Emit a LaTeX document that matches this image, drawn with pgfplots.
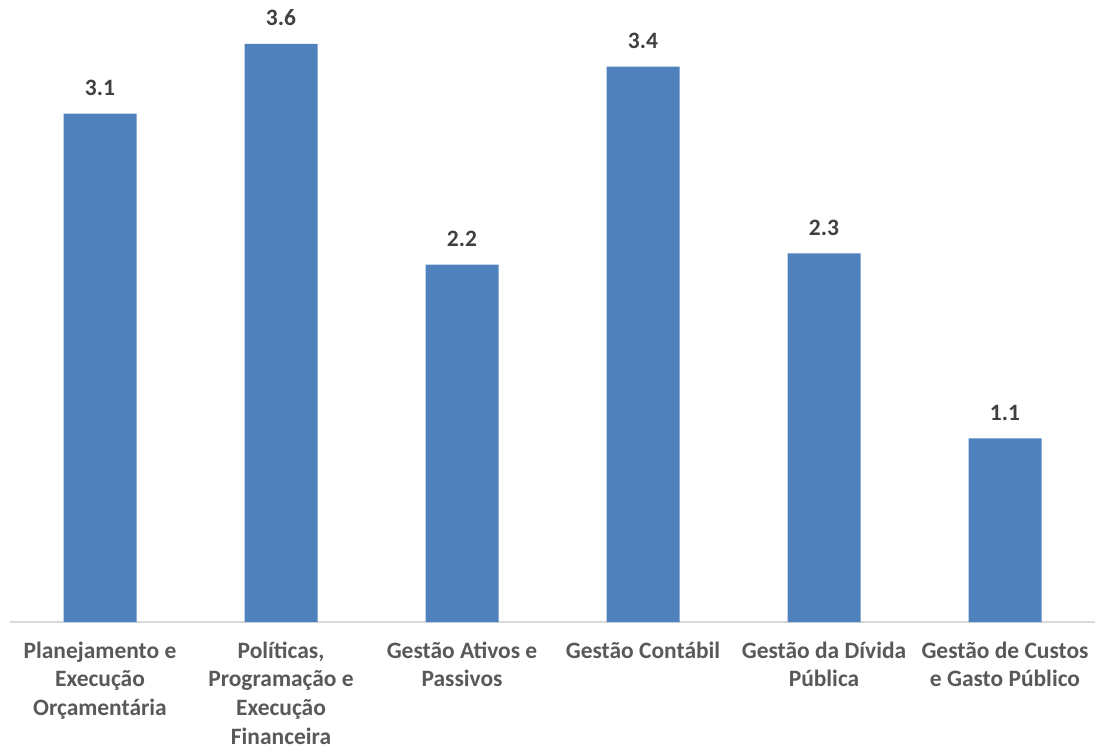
\documentclass[border=0pt]{standalone}
\usepackage{pgfplots}
\pgfplotsset{compat=1.18}
\usepackage{fontspec}
\setmainfont{Carlito}
\definecolor{barblue}{HTML}{4F81BD}
\definecolor{axisgray}{HTML}{D9D9D9}
\definecolor{labgray}{HTML}{595959}
\definecolor{valgray}{HTML}{404040}
\begin{document}
\begin{tikzpicture}[x=0.75pt,y=0.75pt]
\begin{axis}[
  scale only axis,
  width=814.5pt, height=466.5pt,
  xmin=-0.5, xmax=5.5,
  ymin=0, ymax=3.83,
  axis x line*=bottom,
  axis y line=none,
  x axis line style={draw=axisgray, line width=1pt, -},
  xtick=data,
  xtick style={draw=none},
  xticklabels={
    {Planejamento e\\Execução\\Orçamentária},
    {Políticas,\\Programação e\\Execução\\Financeira},
    {Gestão Ativos e\\Passivos},
    {Gestão Contábil},
    {Gestão da Dívida\\Pública},
    {Gestão de Custos\\e Gasto Público}},
  xticklabel style={align=center, font=\fontsize{17.6}{21.5}\selectfont\bfseries,
    text=labgray, anchor=north, yshift=-7pt},
  ybar,
  bar width=54.75pt,
  nodes near coords,
  nodes near coords style={font=\fontsize{17.6}{20}\selectfont\bfseries, text=valgray,
    yshift=10pt,
    /pgf/number format/fixed, /pgf/number format/fixed zerofill,
    /pgf/number format/precision=1, /pgf/number format/assume math mode=true},
]
\addplot[fill=barblue, draw=none] coordinates {
  (0,3.13) (1,3.56) (2,2.20) (3,3.42) (4,2.27) (5,1.13)
};
\end{axis}
\pgfresetboundingbox
\path (-9.5,-129) rectangle (1085.5,622);
\end{tikzpicture}
\end{document}
